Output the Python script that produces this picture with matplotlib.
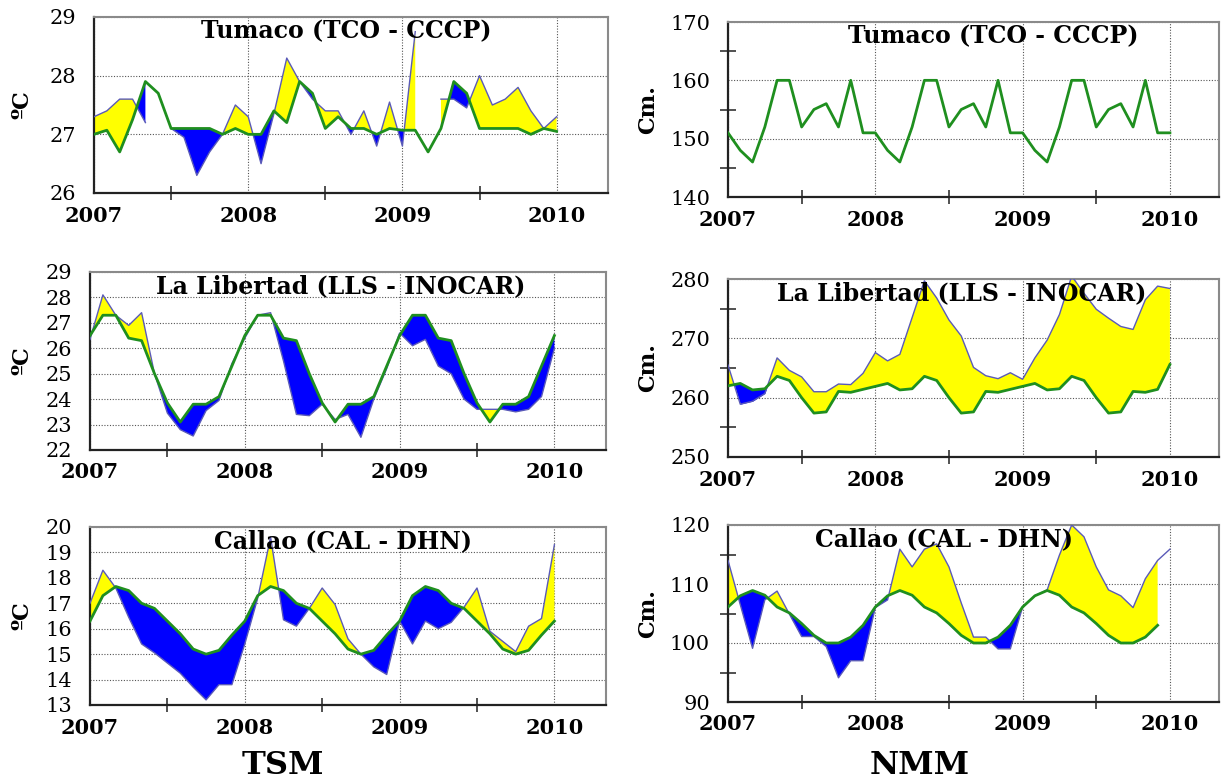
import numpy as np
import matplotlib
matplotlib.use("Agg")
import matplotlib.pyplot as plt

plt.rcParams['font.family'] = ['DejaVu Serif']

nan = np.nan
W, H = 1225, 780

meses = np.arange(37)
anos = ["2007", "2008", "2009", "2010"]

# ---------------- TSM ----------------
tco_tsm_obs = [27.3, 27.4, 27.6, 27.6, 27.2, nan, 27.1, 26.95, 26.3, 26.7, 27.0, 27.5,
               27.3, 26.5, 27.35, 28.3, 27.9, 27.6, 27.4, 27.4, 27.0, 27.4, 26.8, 27.55,
               26.8, 28.75, nan, 27.6, 27.6, 27.45, 28.0, 27.5, 27.6, 27.8, 27.4, 27.1, 27.3]
tco_tsm_clim = [27.0, 27.07, 26.7, 27.25, 27.9, 27.7, 27.1, 27.1, 27.1, 27.1, 27.0, 27.1,
                27.0, 27.0, 27.4, 27.2, 27.9, 27.7, 27.1, 27.3, 27.1, 27.1, 27.0, 27.1,
                27.07, 27.07, 26.7, 27.1, 27.9, 27.7, 27.1, 27.1, 27.1, 27.1, 27.0, 27.1, 27.05]

lls_tsm_obs = [26.35, 28.1, 27.3, 26.9, 27.4, 25.0, 23.45, 22.8, 22.55, 23.55, 23.95, 25.4,
               26.4, 27.3, 27.4, 25.5, 23.4, 23.35, 23.8, 23.2, 23.4, 22.5, 24.0, 25.2,
               26.6, 26.1, 26.35, 25.3, 25.0, 24.0, 23.6, 23.6, 23.6, 23.5, 23.6, 24.1, 26.0]
lls_tsm_clim = [26.5, 27.3, 27.3, 26.4, 26.3, 25.0, 23.85, 23.1, 23.8, 23.8, 24.1, 25.3,
                26.5, 27.3, 27.3, 26.4, 26.3, 25.0, 23.85, 23.1, 23.8, 23.8, 24.1, 25.3,
                26.5, 27.3, 27.3, 26.4, 26.3, 25.0, 23.85, 23.1, 23.8, 23.8, 24.1, 25.3, 26.5]

cal_tsm_obs = [17.0, 18.3, 17.6, 16.45, 15.4, 15.05, 14.65, 14.25, 13.7, 13.2, 13.8, 13.8,
               15.4, 17.2, 19.6, 16.35, 16.1, 16.8, 17.6, 16.95, 15.6, 15.0, 14.5, 14.2,
               16.3, 15.4, 16.3, 16.0, 16.25, 16.85, 17.6, 15.9, 15.5, 15.1, 16.1, 16.4, 19.3]
cal_tsm_clim = [16.3, 17.3, 17.66, 17.5, 17.0, 16.8, 16.3, 15.8, 15.2, 15.0, 15.15, 15.75,
                16.3, 17.3, 17.66, 17.5, 17.0, 16.8, 16.3, 15.8, 15.2, 15.0, 15.15, 15.75,
                16.3, 17.3, 17.66, 17.5, 17.0, 16.8, 16.3, 15.8, 15.2, 15.0, 15.15, 15.75, 16.3]

# ---------------- NMM ----------------
tco_nmm_clim = [151, 148, 146, 152, 160, 160, 152, 155, 156, 152, 160, 151,
                151, 148, 146, 152, 160, 160, 152, 155, 156, 152, 160, 151,
                151, 148, 146, 152, 160, 160, 152, 155, 156, 152, 160, 151, 151]

lls_nmm_obs = [265.5, 258.9, 259.4, 260.7, 266.7, 264.6, 263.5, 261.0, 261.0, 262.3, 262.2, 264.1,
               267.6, 266.2, 267.3, 273.5, 279.7, 276.8, 273.1, 270.4, 265.1, 263.7, 263.2, 264.2,
               263.1, 266.7, 269.7, 274.0, 280.5, 277.6, 274.9, 273.4, 272.0, 271.5, 276.5, 278.8, 278.4]
lls_nmm_clim = [262.0, 262.4, 261.3, 261.5, 263.6, 262.9, 260.0, 257.4, 257.6, 261.05, 260.9, 261.4,
                261.9, 262.4, 261.3, 261.5, 263.6, 262.9, 260.0, 257.4, 257.6, 261.05, 260.9, 261.4,
                261.9, 262.4, 261.3, 261.5, 263.6, 262.9, 260.0, 257.4, 257.6, 261.05, 260.9, 261.4, 265.6]

cal_nmm_obs = [114.0, 106.5, 99.1, 107.3, 108.8, 104.9, 101.1, 101.1, 99.4, 94.1, 97.0, 97.0,
               106.0, 107.3, 115.9, 112.9, 115.9, 116.8, 112.9, 106.8, 101.0, 101.0, 99.0, 99.0,
               106.1, 108.0, 109.0, 114.9, 120.0, 118.0, 112.9, 109.0, 108.0, 106.0, 110.9, 114.0, 115.9]
cal_nmm_clim = [106.1, 108.0, 108.9, 108.1, 106.1, 105.1, 103.3, 101.3, 100.0, 100.0, 101.0, 103.0,
                106.1, 108.0, 108.9, 108.1, 106.1, 105.1, 103.3, 101.3, 100.0, 100.0, 101.0, 103.0,
                106.1, 108.0, 108.9, 108.1, 106.1, 105.1, 103.3, 101.3, 100.0, 100.0, 101.0, 103.0, nan]

VERDE = '#1f8f1f'
LINHA_OBS = '#5a5ab8'


def caixa(l, t, r, b):
    return [l / W, 1 - b / H, (r - l) / W, (b - t) / H]


def painel(pos, obs, clim, ylim, yticks, yminor, titulo, tx, ylabel, ylx):
    ax = fig.add_axes(caixa(*pos))
    clim = np.array(clim, dtype=float)
    if obs is not None:
        obs = np.array(obs, dtype=float)
        ax.fill_between(meses, obs, clim, where=obs >= clim, interpolate=True,
                        color='#ffff00', linewidth=0, zorder=2)
        ax.fill_between(meses, obs, clim, where=obs <= clim, interpolate=True,
                        color='#0000ff', linewidth=0, zorder=2)
        ax.plot(meses, obs, color=LINHA_OBS, lw=1.0, zorder=3)
    ax.plot(meses, clim, color=VERDE, lw=2.0, zorder=4)

    ax.set_xlim(0, 40)
    ax.set_ylim(*ylim)
    ax.set_xticks([0, 12, 24, 36])
    ax.set_xticklabels(anos, fontweight='bold', fontsize=15)
    ax.set_xticks([6, 18, 30], minor=True)
    ax.tick_params(axis='x', which='major', length=0, pad=9)
    ax.tick_params(axis='x', which='minor', direction='inout', length=10, width=1.2, color='#333333')
    ax.set_yticks(yticks)
    ax.tick_params(axis='y', which='major', length=0, pad=13, labelsize=15)
    if yminor:
        ax.set_yticks(yminor, minor=True)
        ax.tick_params(axis='y', which='minor', direction='inout', length=11, width=1.2, color='#333333')

    ax.set_axisbelow(True)
    ax.grid(True, which='major', linestyle=(0, (1, 1.5)), color='#555555', lw=0.8)

    for lado in ['top', 'right']:
        ax.spines[lado].set_color('#8a8a8a')
        ax.spines[lado].set_linewidth(1.5)
    for lado in ['left', 'bottom']:
        ax.spines[lado].set_color('#222222')
        ax.spines[lado].set_linewidth(1.6)

    ax.text(tx, 0.985, titulo, transform=ax.transAxes, ha='center', va='top',
            fontsize=17, fontweight='bold', zorder=6)

    yc = (pos[1] + pos[3]) / 2
    fig.text(ylx / W, 1 - yc / H, ylabel, rotation=90, ha='center', va='center',
             fontsize=16, fontweight='bold')
    return ax


fig = plt.figure(figsize=(12.25, 7.8), dpi=100)

painel((94, 17, 608, 193), tco_tsm_obs, tco_tsm_clim, (26, 29), [26, 27, 28, 29], None,
       "Tumaco (TCO - CCCP)", 0.49, "ºC", 22)
painel((90, 272, 606, 450), lls_tsm_obs, lls_tsm_clim, (22, 29), list(range(22, 30)), None,
       "La Libertad (LLS - INOCAR)", 0.485, "ºC", 22)
painel((90, 527, 606, 705), cal_tsm_obs, cal_tsm_clim, (13, 20), list(range(13, 21)), None,
       "Callao (CAL - DHN)", 0.49, "ºC", 22)

painel((728, 22, 1219, 197), None, tco_nmm_clim, (140, 170), [140, 150, 160, 170], [145, 155, 165],
       "Tumaco (TCO - CCCP)", 0.54, "Cm.", 648)
painel((728, 279, 1219, 457), lls_nmm_obs, lls_nmm_clim, (250, 280), [250, 260, 270, 280], [255, 265, 275],
       "La Libertad (LLS - INOCAR)", 0.475, "Cm.", 648)
painel((728, 525, 1219, 702), cal_nmm_obs, cal_nmm_clim, (90, 120), [90, 100, 110, 120], [95, 105, 115],
       "Callao (CAL - DHN)", 0.44, "Cm.", 648)

fig.text(283 / W, 1 - 765 / H, "TSM", ha='center', va='center', fontsize=23, fontweight='bold')
fig.text(920 / W, 1 - 765 / H, "NMM", ha='center', va='center', fontsize=23, fontweight='bold')

fig.savefig("out.png", dpi=100)
